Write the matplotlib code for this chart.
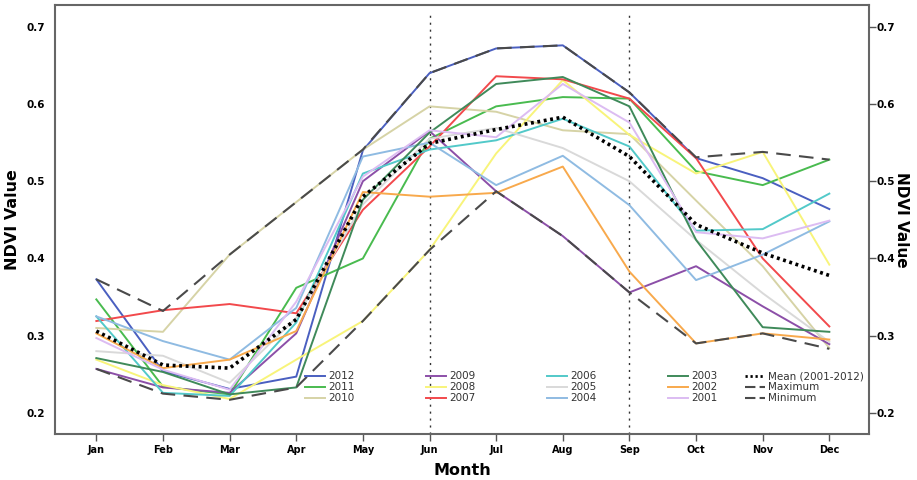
import matplotlib
matplotlib.use("Agg")
import matplotlib.pyplot as plt
from matplotlib.lines import Line2D
import numpy as np

months = ["Jan", "Feb", "Mar", "Apr", "May", "Jun",
          "Jul", "Aug", "Sep", "Oct", "Nov", "Dec"]

years = ["2012", "2011", "2010", "2009", "2008", "2007",
         "2006", "2005", "2004", "2003", "2002", "2001"]

ndvi_2012 = [0.373, 0.254, 0.231, 0.247, 0.540, 0.640, 0.672, 0.676, 0.615, 0.530, 0.504, 0.464]
ndvi_2011 = [0.347, 0.234, 0.224, 0.362, 0.400, 0.555, 0.597, 0.609, 0.607, 0.513, 0.495, 0.528]
ndvi_2010 = [0.310, 0.305, 0.405, 0.473, 0.541, 0.597, 0.590, 0.566, 0.561, 0.475, 0.390, 0.284]
ndvi_2009 = [0.257, 0.233, 0.226, 0.303, 0.500, 0.565, 0.487, 0.429, 0.356, 0.390, 0.338, 0.289]
ndvi_2008 = [0.269, 0.236, 0.218, 0.269, 0.319, 0.411, 0.536, 0.631, 0.560, 0.510, 0.538, 0.392]
ndvi_2007 = [0.319, 0.333, 0.341, 0.329, 0.463, 0.545, 0.636, 0.632, 0.607, 0.530, 0.400, 0.312]
ndvi_2006 = [0.325, 0.226, 0.222, 0.317, 0.510, 0.541, 0.553, 0.581, 0.545, 0.436, 0.438, 0.484]
ndvi_2005 = [0.280, 0.274, 0.239, 0.323, 0.470, 0.555, 0.569, 0.543, 0.500, 0.424, 0.355, 0.292]
ndvi_2004 = [0.325, 0.293, 0.269, 0.336, 0.532, 0.550, 0.495, 0.533, 0.469, 0.372, 0.405, 0.448]
ndvi_2003 = [0.271, 0.253, 0.224, 0.233, 0.476, 0.563, 0.626, 0.635, 0.597, 0.424, 0.311, 0.305]
ndvi_2002 = [0.303, 0.258, 0.269, 0.306, 0.486, 0.480, 0.485, 0.519, 0.383, 0.290, 0.303, 0.295]
ndvi_2001 = [0.297, 0.256, 0.230, 0.344, 0.506, 0.566, 0.557, 0.626, 0.576, 0.434, 0.426, 0.449]

ndvi_mean = [0.306, 0.262, 0.258, 0.321, 0.480, 0.549, 0.567, 0.583, 0.532, 0.444, 0.407, 0.378]
ndvi_max = [0.373, 0.332, 0.405, 0.473, 0.541, 0.640, 0.672, 0.676, 0.615, 0.531, 0.538, 0.528]
ndvi_min = [0.257, 0.225, 0.217, 0.233, 0.319, 0.411, 0.487, 0.429, 0.356, 0.290, 0.303, 0.283]

year_series = [ndvi_2012, ndvi_2011, ndvi_2010, ndvi_2009, ndvi_2008, ndvi_2007,
               ndvi_2006, ndvi_2005, ndvi_2004, ndvi_2003, ndvi_2002, ndvi_2001]
year_colors = ["#4a5fc0", "#49bb4f", "#d6d3a6", "#8c4fa8", "#f8f47a", "#f2494c",
               "#52c9c9", "#d9d9d9", "#8fbbe2", "#3f8a5a", "#f8a94c", "#dcbcf2"]

yticks = [0.2, 0.3, 0.4, 0.5, 0.6, 0.7]

fig = plt.figure(figsize=(9.17, 4.8), dpi=100)
ax = fig.add_axes([0.060, 0.096, 0.888, 0.894])
x = np.arange(len(months))

for vals, col in zip(year_series, year_colors):
    ax.plot(x, vals, color=col, lw=1.4, zorder=2)

# max / min envelopes and the 12-year mean on top
ax.plot(x, ndvi_max, color="#4a4a4a", lw=1.5, ls=(0, (7, 4)), zorder=3)
ax.plot(x, ndvi_min, color="#4a4a4a", lw=1.5, ls=(0, (7, 4)), zorder=3)
ax.plot(x, ndvi_mean, color="black", lw=2.6, ls=(0, (0.8, 1.0)), zorder=4)

for m in (5, 8):
    ax.axvline(m, ymin=0, ymax=0.984, color="#333333", lw=1.0, ls=(0, (1.5, 3.5)), zorder=1)

ax.set_xlim(-0.62, 11.6)
ax.set_ylim(0.1728, 0.7285)
ax.set_xticks(x)
ax.set_xticklabels(months, fontsize=7, fontweight="bold")
ax.set_yticks(yticks)
ax.set_yticklabels([f"{v:.1f}" for v in yticks], fontsize=7.5, fontweight="bold")
ax.tick_params(axis="y", length=0, pad=7)
ax.tick_params(axis="x", length=5, width=1, color="#555555", pad=3)
for s in ax.spines.values():
    s.set_color("#666666")
    s.set_linewidth(1.5)

ax2 = ax.twinx()
ax2.set_ylim(ax.get_ylim())
ax2.set_yticks(yticks)
ax2.set_yticklabels([f"{v:.1f}" for v in yticks], fontsize=7.5, fontweight="bold")
ax2.tick_params(axis="y", length=5, width=1, color="#555555", pad=0.5)
for s in ax2.spines.values():
    s.set_visible(False)

ax.set_xlabel("Month", fontsize=11.5, fontweight="bold", labelpad=6)
ax.set_ylabel("NDVI Value", fontsize=11.5, fontweight="bold", labelpad=5)
ax2.set_ylabel("NDVI Value", fontsize=11, fontweight="bold", rotation=270, labelpad=10)

handles1 = [Line2D([], [], color=c, lw=1.4) for c in year_colors]
leg1 = fig.legend(handles1, years, ncol=4, loc="upper left",
                  bbox_to_anchor=(0.327, 0.2375), frameon=False,
                  fontsize=7.5, handlelength=1.9, handletextpad=0.3,
                  labelspacing=0.1, columnspacing=6.9, borderpad=0,
                  labelcolor="#333333")

handles2 = [Line2D([], [], color="black", lw=2.0, ls=(0, (0.8, 1.0))),
            Line2D([], [], color="#4a4a4a", lw=1.5, ls=(0, (5, 2, 2, 0))),
            Line2D([], [], color="#4a4a4a", lw=1.5, ls=(0, (5, 2, 2, 0)))]
leg2 = fig.legend(handles2, ["Mean (2001-2012)", "Maximum", "Minimum"],
                  loc="upper left", bbox_to_anchor=(0.807, 0.2375), frameon=False,
                  fontsize=7.5, handlelength=1.9, handletextpad=0.3,
                  labelspacing=0.1, borderpad=0, labelcolor="#333333")

fig.savefig("out.png", dpi=100)
